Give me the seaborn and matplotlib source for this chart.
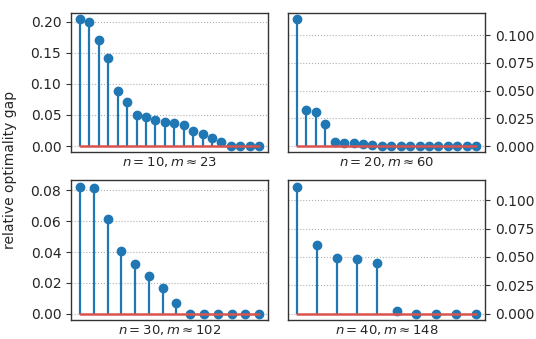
import numpy as np
import matplotlib
matplotlib.use("Agg")
import matplotlib.pyplot as plt
import seaborn as sns

# relative optimality gap per instance, sorted descending
gap_n10 = [0.204, 0.200, 0.170, 0.142, 0.088, 0.071, 0.050, 0.047, 0.042, 0.039,
           0.037, 0.034, 0.0235, 0.019, 0.0134, 0.007, 0.0, 0.0, 0.0, 0.0]
gap_n20 = [0.1144, 0.0321, 0.0309, 0.0198, 0.0033, 0.0027, 0.0027, 0.0015, 0.0006, 0.0,
           0.0, 0.0, 0.0, 0.0, 0.0, 0.0, 0.0, 0.0, 0.0, 0.0]
gap_n30 = [0.0824, 0.0813, 0.0616, 0.0409, 0.0322, 0.0242, 0.0169, 0.0067,
           0.0, 0.0, 0.0, 0.0, 0.0, 0.0]
gap_n40 = [0.112, 0.0603, 0.0491, 0.0479, 0.0447, 0.0024, 0.0, 0.0, 0.0, 0.0]

labels = [r"$n = 10, m \approx 23$", r"$n = 20, m \approx 60$",
          r"$n = 30, m \approx 102$", r"$n = 40, m \approx 148$"]
series = [gap_n10, gap_n20, gap_n30, gap_n40]

sns.set_style("ticks", {"axes.grid": True, "grid.linestyle": ":",
                        "grid.color": "#b0b0b0", "axes.edgecolor": "#333333"})
plt.rcParams["font.family"] = ["DejaVu Sans"]

fig, axs = plt.subplots(2, 2, figsize=(5.36, 3.39), dpi=100)
fig.subplots_adjust(left=0.1325, right=0.905, top=0.9625, bottom=0.056,
                    wspace=0.1015, hspace=0.2)

for idx, (ax, vals, lab) in enumerate(zip(axs.ravel(), series, labels)):
    x = np.arange(len(vals))
    ml, sl, bl = ax.stem(x, vals, linefmt="C0-", markerfmt="C0o", basefmt="C3-")
    plt.setp(ml, markersize=6)
    plt.setp(sl, linewidth=1.6)
    plt.setp(bl, color="#d9534f", linewidth=1.8)
    ax.grid(axis="x", visible=False)
    ax.grid(axis="y", linewidth=0.8)
    ax.set_xticks([])
    ax.set_xlabel(lab, fontsize=9.5, labelpad=2)
    ax.tick_params(axis="y", labelsize=10, length=3.5, width=0.8, color="#333333")
    if idx % 2 == 1:
        ax.yaxis.tick_right()
    for sp in ax.spines.values():
        sp.set_linewidth(1.0)

axs[0, 0].set_yticks([0.0, 0.05, 0.10, 0.15, 0.20])
axs[1, 0].set_yticks([0.0, 0.02, 0.04, 0.06, 0.08])
axs[0, 1].set_yticks([0.0, 0.025, 0.05, 0.075, 0.10])
axs[1, 1].set_yticks([0.0, 0.025, 0.05, 0.075, 0.10])
axs[0, 0].set_yticklabels(["0.00", "0.05", "0.10", "0.15", "0.20"])
axs[1, 0].set_yticklabels(["0.00", "0.02", "0.04", "0.06", "0.08"])
for ax in axs[:, 1]:
    ax.set_yticklabels(["0.000", "0.025", "0.050", "0.075", "0.100"])

fig.text(0.018, 0.5, "relative optimality gap", rotation=90, va="center",
         ha="center", fontsize=10)

plt.savefig("out.png", dpi=100)
